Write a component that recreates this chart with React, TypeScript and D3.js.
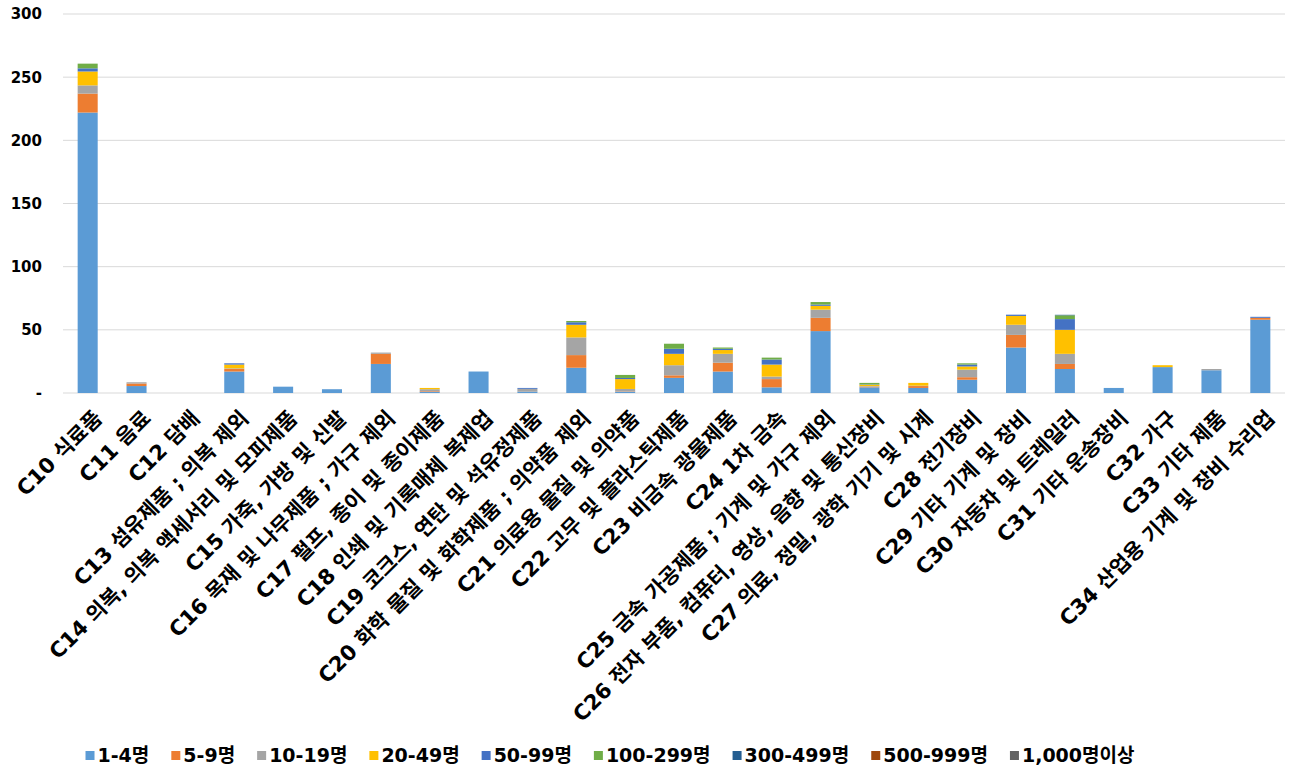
import { useEffect, useRef } from "react"
import * as d3 from "d3"

const categories = [
  "C10 식료품",
  "C11 음료",
  "C12 담배",
  "C13 섬유제품 ; 의복 제외",
  "C14 의복, 의복 액세서리 및 모피제품",
  "C15 가죽, 가방 및 신발",
  "C16 목재 및 나무제품 ; 가구 제외",
  "C17 펄프, 종이 및 종이제품",
  "C18 인쇄 및 기록매체 복제업",
  "C19 코크스, 연탄 및 석유정제품",
  "C20 화학 물질 및 화학제품 ; 의약품 제외",
  "C21 의료용 물질 및 의약품",
  "C22 고무 및 플라스틱제품",
  "C23 비금속 광물제품",
  "C24 1차 금속",
  "C25 금속 가공제품 ; 기계 및 가구 제외",
  "C26 전자 부품, 컴퓨터, 영상, 음향 및 통신장비",
  "C27 의료, 정밀, 광학 기기 및 시계",
  "C28 전기장비",
  "C29 기타 기계 및 장비",
  "C30 자동차 및 트레일러",
  "C31 기타 운송장비",
  "C32 가구",
  "C33 기타 제품",
  "C34 산업용 기계 및 장비 수리업",
]

const seriesNames = ["1-4명", "5-9명", "10-19명", "20-49명", "50-99명", "100-299명", "300-499명", "500-999명", "1,000명이상"]
const seriesColors = ["#5B9BD5", "#ED7D31", "#A5A5A5", "#FFC000", "#4472C4", "#70AD47", "#255E91", "#9E480E", "#636363"]

// values per size class, one entry per category (C10 ... C34)
const size1to4 = [222, 5.5, 0, 17, 5, 3, 23, 1, 17, 1, 20, 1, 12, 17, 4.5, 49, 4.5, 4, 10.5, 36, 19, 4, 20.5, 18, 58]
const size5to9 = [15, 2, 0, 2, 0, 0, 8, 0.5, 0, 0, 10, 0.3, 2, 7, 6.5, 10.5, 0.5, 1.5, 2, 10, 4, 0, 0, 0, 1.5]
const size10to19 = [6.5, 1, 0, 0.5, 0, 0, 1, 1.5, 0, 2.3, 14, 1.9, 8, 7, 2, 6.5, 0.5, 0.3, 6, 8, 8, 0, 0, 1, 0]
const size20to49 = [11, 0, 0, 3, 0, 0, 0, 1, 0, 0, 10, 7.8, 9, 3, 9.5, 3, 1, 2.2, 2.5, 7, 19, 0, 1.5, 0, 0]
const size50to99 = [2.5, 0, 0, 1, 0, 0, 0, 0, 0, 0.7, 2, 0.9, 4, 1, 4, 1, 0.3, 0, 1.5, 1, 8.5, 0, 0, 0, 0.8]
const size100to299 = [3.7, 0, 0, 0, 0, 0, 0, 0, 0, 0, 1, 2.4, 4, 1, 1.5, 2, 1.2, 0, 1, 0, 3, 0, 0, 0, 0]
const size300to499 = [0, 0, 0, 0, 0, 0, 0, 0, 0, 0, 0, 0, 0, 0, 0, 0, 0, 0, 0, 0, 0.4, 0, 0, 0, 0]
const size500to999 = [0, 0, 0, 0, 0, 0, 0, 0, 0, 0, 0, 0, 0, 0, 0, 0, 0, 0, 0, 0, 0, 0, 0, 0, 0]
const size1000plus = [0, 0, 0, 0, 0, 0, 0, 0, 0, 0, 0, 0, 0, 0, 0, 0, 0, 0, 0, 0, 0, 0, 0, 0, 0]

const yTicks = [0, 50, 100, 150, 200, 250, 300]

// wide latin glyphs from DejaVu, hangul falls back to Noto CJK
const FONT = "'DejaVu Sans', 'Noto Sans CJK KR', sans-serif"

export default function App() {
  const svgRef = useRef<SVGSVGElement>(null)

  useEffect(() => {
    document.body.style.margin = "0"
    if (!svgRef.current) return
    const svg = d3.select(svgRef.current)
    svg.selectAll("*").remove()

    const width = 1299
    const margin = { top: 14, left: 63, right: 14 }
    const plotBottom = 393

    const seriesValues = [size1to4, size5to9, size10to19, size20to49, size50to99, size100to299, size300to499, size500to999, size1000plus]
    const rows = categories.map((c, i) => {
      const row: any = { category: c }
      seriesNames.forEach((s, j) => (row[s] = seriesValues[j][i]))
      return row
    })
    const stacked = d3.stack().keys(seriesNames)(rows)

    const x = d3.scaleBand().domain(categories).range([margin.left, width - margin.right]).paddingInner(0.59).paddingOuter(0.3)
    const y = d3.scaleLinear().domain([0, 300]).range([plotBottom, margin.top])

    // gridlines
    svg.append("g")
      .selectAll("line")
      .data(yTicks)
      .join("line")
      .attr("x1", margin.left)
      .attr("x2", width - margin.right)
      .attr("y1", (d) => y(d))
      .attr("y2", (d) => y(d))
      .attr("stroke", "#d9d9d9")
      .attr("stroke-width", 1)

    // y tick labels
    svg.append("g")
      .selectAll("text")
      .data(yTicks)
      .join("text")
      .attr("x", 42)
      .attr("y", (d) => y(d))
      .attr("dy", "0.36em")
      .attr("text-anchor", "end")
      .attr("font-family", FONT)
      .attr("font-weight", "bold")
      .attr("font-size", "15px")
      .attr("fill", "#000")
      .text((d) => (d === 0 ? "-" : String(d)))

    // bars
    svg.append("g")
      .selectAll("g")
      .data(stacked)
      .join("g")
      .attr("fill", (_, i) => seriesColors[i])
      .selectAll("rect")
      .data((d) => d)
      .join("rect")
      .attr("x", (d: any) => x(d.data.category)!)
      .attr("width", x.bandwidth())
      .attr("y", (d) => y(d[1]))
      .attr("height", (d) => Math.max(0, y(d[0]) - y(d[1])))

    // x labels
    svg.append("g")
      .selectAll("text")
      .data(categories)
      .join("text")
      .attr("transform", (d) => `translate(${x(d)! + x.bandwidth() / 2 + 3}, 407) rotate(-45)`)
      .attr("dy", "0.85em")
      .attr("text-anchor", "end")
      .attr("font-family", FONT)
      .attr("font-weight", "bold")
      .attr("font-size", "21px")
      .attr("fill", "#000")
      .text((d) => d)

    // legend
    const legend = svg.append("g")
    const items = legend
      .selectAll("g")
      .data(seriesNames)
      .join("g")
    items.append("rect")
      .attr("width", 9)
      .attr("height", 9)
      .attr("y", -11)
      .attr("fill", (_, i) => seriesColors[i])
    const labels = items.append("text")
      .attr("x", 12)
      .attr("y", 0)
      .attr("font-family", FONT)
      .attr("font-weight", "bold")
      .attr("font-size", "19px")
      .attr("fill", "#000")
      .text((d) => d)
    const widths: number[] = []
    labels.each(function () {
      widths.push((this as SVGTextElement).getComputedTextLength())
    })
    const gap = 22
    const total = d3.sum(widths) + widths.length * 12 + (widths.length - 1) * gap
    let cursor = 610 - total / 2
    items.attr("transform", (_, i) => {
      const t = `translate(${cursor}, 762)`
      cursor += 12 + widths[i] + gap
      return t
    })
  }, [])

  return <svg ref={svgRef} width={1299} height={784} style={{ display: "block", background: "#fff" }} />
}
